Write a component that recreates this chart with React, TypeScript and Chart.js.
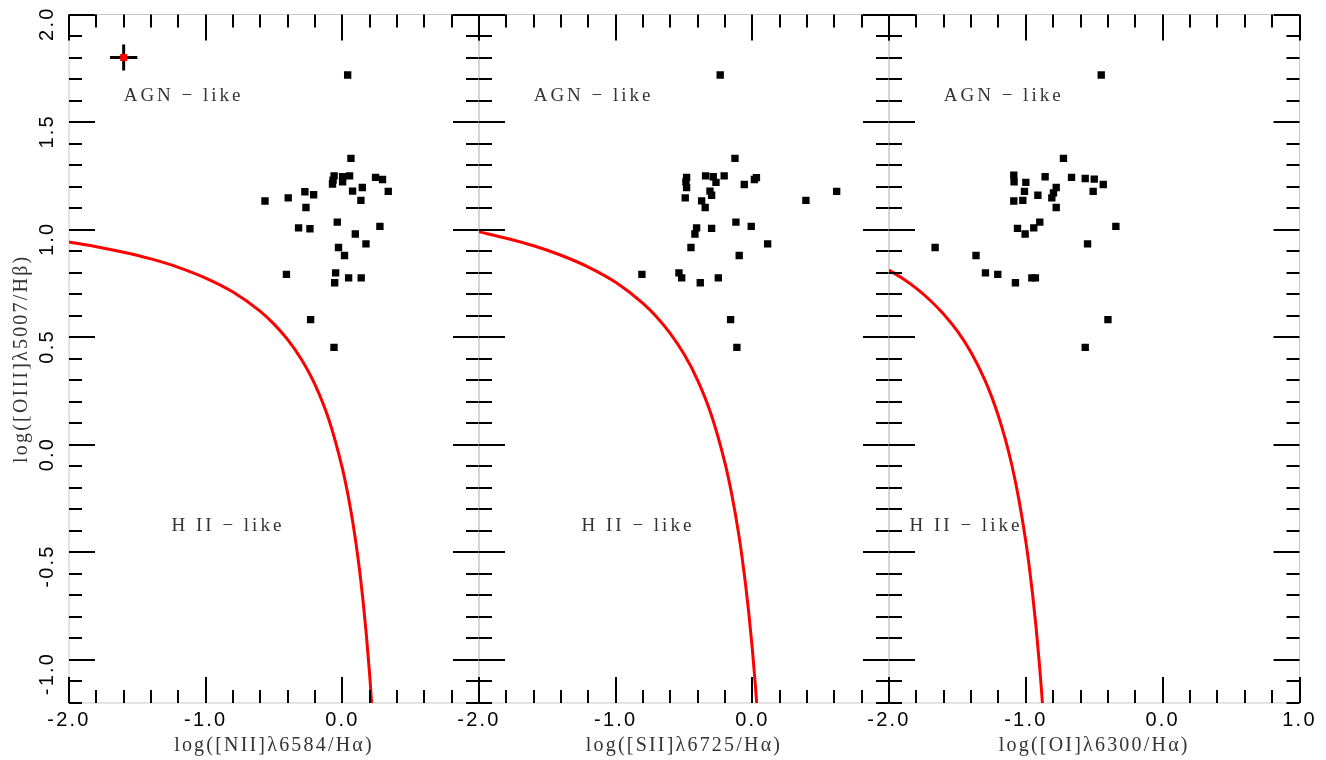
import React, { useEffect, useRef } from 'react';
import { Chart, registerables } from 'chart.js';

Chart.register(...registerables);

// ---------- page / layout ----------
const W = 1326;
const H = 760;
const PLOT_TOP = 14.5;
const X_AXIS_HEIGHT = 57;
const Y_AXIS_WIDTH = 69;
const PANEL_LEFT = [69, 479, 889];
const PANEL_RIGHT = [479, 889, 1299.5];

// ---------- axes ----------
const X_MIN = -2.0;
const X_MAX = 1.0;
const Y_MIN = -1.2;
const Y_MAX = 2.0;
const X_MINOR_STEP = 0.2;
const X_MAJOR_STEP = 1.0;
const Y_MINOR_STEP = 0.1;
const Y_MAJOR_STEP = 0.5;
const yTickLabels = [-1.0, -0.5, 0.0, 0.5, 1.0, 1.5, 2.0];
const xTickLabelsFirst = [-2.0, -1.0, 0.0];
const xTickLabelsMiddle = [-2.0, -1.0, 0.0];
const xTickLabelsLast = [-2.0, -1.0, 0.0, 1.0];

const yTitle = 'log([OIII]\u03bb5007/H\u03b2)';
const xTitles = [
  'log([NII]\u03bb6584/H\u03b1)',
  'log([SII]\u03bb6725/H\u03b1)',
  'log([OI]\u03bb6300/H\u03b1)',
];

// ---------- data: panel 1, [NII]/Ha ----------
const niiX = [0.039, 0.063, -0.060, -0.068, -0.072, 0.002, 0.053, 0.002, 0.243, 0.294, 0.146, 0.075, 0.336, 0.136, -0.274, -0.210, -0.396, -0.566, -0.266, -0.037, -0.320, -0.237, 0.275, 0.095, 0.173, -0.028, 0.016, -0.409, -0.049, -0.056, 0.046, 0.138, -0.232, -0.061];
const niiY = [1.719, 1.331, 1.250, 1.230, 1.212, 1.246, 1.250, 1.222, 1.243, 1.233, 1.196, 1.179, 1.178, 1.136, 1.176, 1.162, 1.148, 1.133, 1.103, 1.035, 1.008, 1.004, 1.015, 0.980, 0.934, 0.917, 0.880, 0.792, 0.799, 0.753, 0.776, 0.776, 0.582, 0.453];

// ---------- data: panel 2, [SII]/Ha ----------
const siiX = [-0.235, -0.127, -0.481, -0.486, -0.481, -0.342, -0.286, -0.266, -0.206, -0.059, 0.015, 0.030, -0.310, -0.298, -0.491, -0.371, -0.345, 0.392, 0.617, -0.120, -0.008, -0.408, -0.420, -0.298, 0.112, -0.449, -0.096, -0.808, -0.537, -0.517, -0.381, -0.249, -0.159, -0.113];
const siiY = [1.719, 1.331, 1.243, 1.222, 1.196, 1.250, 1.246, 1.220, 1.250, 1.210, 1.233, 1.242, 1.179, 1.160, 1.148, 1.134, 1.103, 1.136, 1.178, 1.035, 1.015, 1.008, 0.980, 1.006, 0.934, 0.917, 0.880, 0.792, 0.799, 0.776, 0.753, 0.776, 0.582, 0.453];

// ---------- data: panel 3, [OI]/Ha ----------
const oiX = [-0.449, -0.725, -1.088, -1.086, -1.000, -0.859, -0.666, -0.566, -0.500, -0.434, -0.778, -1.010, -0.912, -0.798, -0.810, -0.508, -1.088, -1.022, -0.778, -0.898, -0.942, -1.061, -1.005, -0.342, -0.549, -1.663, -1.364, -1.295, -1.205, -1.076, -0.956, -0.930, -0.400, -0.566];
const oiY = [1.719, 1.331, 1.253, 1.222, 1.220, 1.246, 1.243, 1.238, 1.235, 1.210, 1.196, 1.178, 1.160, 1.171, 1.148, 1.178, 1.133, 1.136, 1.103, 1.035, 1.008, 1.006, 0.980, 1.015, 0.934, 0.917, 0.880, 0.799, 0.792, 0.753, 0.776, 0.776, 0.582, 0.453];

// ---------- red demarcation curves ----------
const curveNiiX = [-2.0, -1.8, -1.6, -1.4, -1.2, -1.0, -0.8, -0.6, -0.5, -0.4, -0.3, -0.2, -0.1, 0.0, 0.025, 0.05, 0.075, 0.1, 0.125, 0.15, 0.175, 0.2, 0.22];
const curveNiiY = [0.943, 0.921, 0.895, 0.864, 0.825, 0.775, 0.710, 0.620, 0.561, 0.489, 0.398, 0.280, 0.120, -0.108, -0.181, -0.262, -0.354, -0.459, -0.578, -0.716, -0.878, -1.069, -1.250];
const curveSiiX = [-2.0, -1.8, -1.6, -1.4, -1.2, -1.0, -0.8, -0.7, -0.6, -0.5, -0.4, -0.3, -0.2, -0.15, -0.1, -0.075, -0.05, -0.025, 0.0, 0.02, 0.04];
const curveSiiY = [0.990, 0.960, 0.925, 0.881, 0.826, 0.755, 0.657, 0.594, 0.517, 0.422, 0.300, 0.139, -0.085, -0.232, -0.414, -0.523, -0.646, -0.787, -0.950, -1.100, -1.271];
const curveOiX = [-2.0, -1.9, -1.8, -1.7, -1.6, -1.5, -1.4, -1.3, -1.25, -1.2, -1.15, -1.1, -1.05, -1.0, -0.975, -0.95, -0.925, -0.9, -0.885, -0.87];
const curveOiY = [0.812, 0.773, 0.727, 0.672, 0.607, 0.528, 0.429, 0.302, 0.224, 0.133, 0.026, -0.101, -0.257, -0.450, -0.566, -0.698, -0.849, -1.025, -1.145, -1.277];

// ---------- typical error bar (panel 1) ----------
const errorCenter = [-1.6, 1.8];
const errorHalf = [0.1, 0.06];

// ---------- region labels ----------
const regionText = ['AGN \u2212 like', 'H II \u2212 like'];
const regionY = [1.6, -0.4];
const regionXNii = [-1.6, -1.25];
const regionXSii = [-1.6, -1.25];
const regionXOi = [-1.6, -1.85];

const SANS = "'Liberation Sans', Arial, sans-serif";
const SERIF = "'Liberation Serif', 'Times New Roman', serif";

const panels = [
  { px: niiX, py: niiY, cx: curveNiiX, cy: curveNiiY, rx: regionXNii, xt: xTickLabelsFirst },
  { px: siiX, py: siiY, cx: curveSiiX, cy: curveSiiY, rx: regionXSii, xt: xTickLabelsMiddle },
  { px: oiX, py: oiY, cx: curveOiX, cy: curveOiY, rx: regionXOi, xt: xTickLabelsLast },
];

function zip(xs: number[], ys: number[]) {
  return xs.map((x, i) => ({ x, y: ys[i] }));
}

function makePlugin(idx: number) {
  const p = panels[idx];
  return {
    id: 'idlFrame' + idx,
    beforeDraw(chart: any) {
      chart.ctx.letterSpacing = '2.2px';
    },
    beforeDatasetsDraw(chart: any) {
      const { ctx, chartArea: a } = chart;
      ctx.save();
      ctx.strokeStyle = '#c8c8c8';
      ctx.lineWidth = 1;
      ctx.strokeRect(a.left, a.top, a.right - a.left, a.bottom - a.top);
      ctx.restore();
    },
    afterDatasetsDraw(chart: any) {
      const { ctx, chartArea: a } = chart;
      const xs = chart.scales.x;
      const ys = chart.scales.y;
      ctx.save();
      ctx.strokeStyle = '#000';
      ctx.lineWidth = 2;
      ctx.beginPath();
      const nx = Math.round((X_MAX - X_MIN) / X_MINOR_STEP);
      const perX = Math.round(X_MAJOR_STEP / X_MINOR_STEP);
      for (let k = 0; k <= nx; k++) {
        const v = X_MIN + k * X_MINOR_STEP;
        const len = k % perX === 0 ? 26 : 13;
        const px = Math.round(xs.getPixelForValue(v));
        ctx.moveTo(px, a.bottom);
        ctx.lineTo(px, a.bottom - len);
        ctx.moveTo(px, a.top);
        ctx.lineTo(px, a.top + len);
      }
      const ny = Math.round((Y_MAX - Y_MIN) / Y_MINOR_STEP);
      const perY = Math.round(Y_MAJOR_STEP / Y_MINOR_STEP);
      const offY = Math.round((Math.ceil(Y_MIN / Y_MAJOR_STEP) * Y_MAJOR_STEP - Y_MIN) / Y_MINOR_STEP);
      for (let k = 0; k <= ny; k++) {
        const v = Y_MIN + k * Y_MINOR_STEP;
        const len = (k - offY) % perY === 0 ? 26 : 13;
        const py = Math.round(ys.getPixelForValue(v));
        ctx.moveTo(a.left, py);
        ctx.lineTo(a.left + len, py);
        ctx.moveTo(a.right, py);
        ctx.lineTo(a.right - len, py);
      }
      ctx.stroke();

      ctx.font = '19px ' + SERIF;
      ctx.letterSpacing = '3px';
      ctx.fillStyle = '#333';
      ctx.textAlign = 'left';
      ctx.textBaseline = 'alphabetic';
      regionText.forEach((t, i) => {
        ctx.fillText(t, xs.getPixelForValue(p.rx[i]), ys.getPixelForValue(regionY[i]));
      });
      ctx.restore();
    },
  };
}

function buildConfig(idx: number): any {
  const p = panels[idx];
  const datasets: any[] = [];
  if (idx === 0) {
    datasets.push({
      data: [{ x: errorCenter[0], y: errorCenter[1] }],
      pointStyle: 'rect',
      pointRadius: 5,
      backgroundColor: '#ff0000',
      borderWidth: 0,
    });
    datasets.push({
      data: [
        { x: errorCenter[0] - errorHalf[0], y: errorCenter[1] },
        { x: errorCenter[0] + errorHalf[0], y: errorCenter[1] },
      ],
      showLine: true,
      borderColor: '#000',
      borderWidth: 3,
      pointRadius: 0,
    });
    datasets.push({
      data: [
        { x: errorCenter[0], y: errorCenter[1] - errorHalf[1] },
        { x: errorCenter[0], y: errorCenter[1] + errorHalf[1] },
      ],
      showLine: true,
      borderColor: '#000',
      borderWidth: 3,
      pointRadius: 0,
    });
  }
  datasets.push({
    data: zip(p.px, p.py),
    pointStyle: 'rect',
    pointRadius: 5.2,
    backgroundColor: '#000',
    borderWidth: 0,
  });
  datasets.push({
    data: zip(p.cx, p.cy),
    showLine: true,
    borderColor: '#ff0000',
    borderWidth: 3,
    pointRadius: 0,
    cubicInterpolationMode: 'monotone',
    fill: false,
  });

  return {
    type: 'scatter',
    data: { datasets },
    options: {
      responsive: false,
      animation: false,
      events: [],
      layout: {
        padding: {
          left: idx === 0 ? PANEL_LEFT[0] - Y_AXIS_WIDTH : PANEL_LEFT[idx],
          right: W - PANEL_RIGHT[idx],
          top: PLOT_TOP,
          bottom: 0,
        },
      },
      plugins: {
        legend: { display: false },
        tooltip: { enabled: false },
        title: { display: false },
      },
      scales: {
        x: {
          type: 'linear',
          position: 'bottom',
          min: X_MIN,
          max: X_MAX,
          afterBuildTicks: (s: any) => {
            s.ticks = p.xt.map((v) => ({ value: v }));
          },
          afterFit: (s: any) => {
            s.height = X_AXIS_HEIGHT;
            s.paddingLeft = 0;
            s.paddingRight = 0;
            s.paddingTop = 0;
            s.paddingBottom = 0;
          },
          grid: { display: false, drawTicks: false },
          border: { display: false },
          ticks: {
            autoSkip: false,
            minRotation: 0,
            maxRotation: 0,
            padding: 5.5,
            color: '#000',
            font: { family: SANS, size: 20 },
            callback: (v: any) => Number(v).toFixed(1),
          },
          title: {
            display: true,
            text: xTitles[idx],
            color: '#333',
            font: { family: SERIF, size: 20 },
            padding: { top: 0, bottom: 2 },
          },
        },
        y: {
          type: 'linear',
          position: 'left',
          min: Y_MIN,
          max: Y_MAX,
          afterBuildTicks: (s: any) => {
            s.ticks = yTickLabels.map((v) => ({ value: v }));
          },
          afterFit: (s: any) => {
            s.width = idx === 0 ? Y_AXIS_WIDTH : 0;
            s.paddingTop = 0;
            s.paddingBottom = 0;
            s.paddingLeft = 0;
            s.paddingRight = 0;
          },
          grid: { display: false, drawTicks: false },
          border: { display: false },
          ticks: {
            display: idx === 0,
            minRotation: 90,
            maxRotation: 90,
            padding: 21.5,
            labelOffset: -8,
            color: '#000',
            font: { family: SANS, size: 20 },
            callback: (v: any) => Number(v).toFixed(1),
          },
          title: {
            display: idx === 0,
            text: yTitle,
            color: '#333',
            font: { family: SERIF, size: 20 },
            padding: { top: 10, bottom: 0 },
          },
        },
      },
    },
    plugins: [makePlugin(idx)],
  };
}

export default function App() {
  const r0 = useRef<HTMLCanvasElement>(null);
  const r1 = useRef<HTMLCanvasElement>(null);
  const r2 = useRef<HTMLCanvasElement>(null);
  const refs = [r0, r1, r2];

  useEffect(() => {
    const charts = refs.map((r, i) => new Chart(r.current as HTMLCanvasElement, buildConfig(i)));
    return () => charts.forEach((c) => c.destroy());
  }, []);

  return (
    <div style={{ position: 'fixed', left: 0, top: 0, width: W, height: H, background: '#fff' }}>
      {refs.map((r, i) => (
        <canvas
          key={i}
          ref={r}
          width={W}
          height={H}
          style={{ position: 'absolute', left: 0, top: 0, width: W, height: H }}
        />
      ))}
    </div>
  );
}
